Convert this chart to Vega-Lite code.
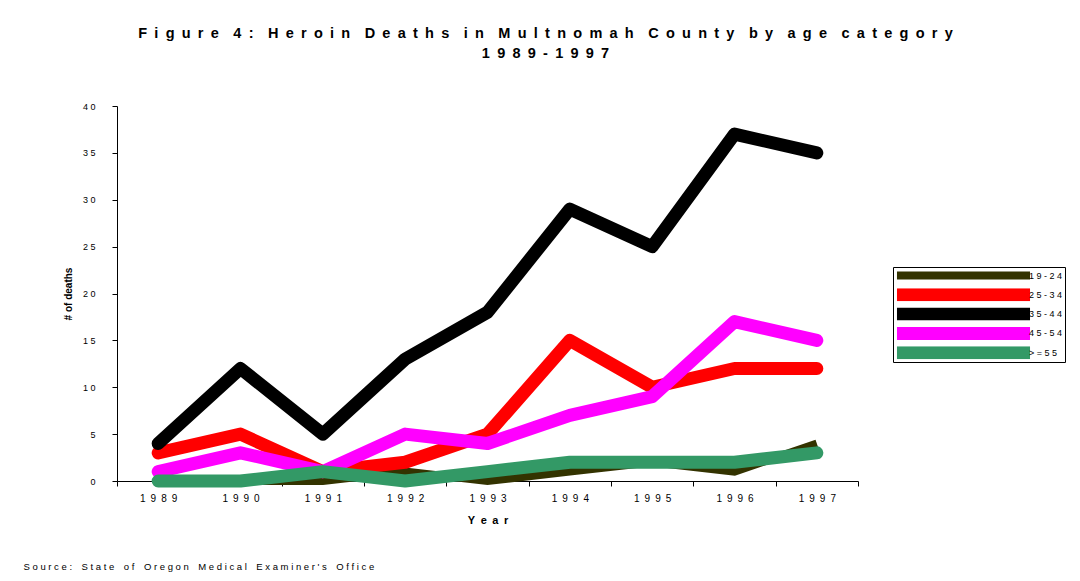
{
  "$schema": "https://vega.github.io/schema/vega-lite/v6.json",
  "width": 741,
  "height": 375,
  "autosize": "none",
  "padding": {"left": 117, "top": 106, "right": 222, "bottom": 100},
  "background": "white",
  "config": {
    "font": "Liberation Sans",
    "view": {"stroke": null},
    "axis": {"domainColor": "black", "tickColor": "black", "labelColor": "black", "titleColor": "black", "grid": false, "labelFont": "Liberation Sans", "titleFont": "Liberation Sans"}
  },
  "title": {
    "text": [
      "F\u2002i\u2002g\u2002u\u2002r\u2002e\u2002\u20024\u2002:\u2002\u2002H\u2002e\u2002r\u2002o\u2002i\u2002n\u2002\u2002D\u2002e\u2002a\u2002t\u2002h\u2002s\u2002\u2002i\u2002n\u2002\u2002M\u2002u\u2002l\u2002t\u2002n\u2002o\u2002m\u2002a\u2002h\u2002\u2002C\u2002o\u2002u\u2002n\u2002t\u2002y\u2002\u2002b\u2002y\u2002\u2002a\u2002g\u2002e\u2002\u2002c\u2002a\u2002t\u2002e\u2002g\u2002o\u2002r\u2002y",
      "1\u20029\u20028\u20029\u2002-\u20021\u20029\u20029\u20027"
    ],
    "font": "Liberation Sans",
    "fontSize": 14.5,
    "fontWeight": "bold",
    "color": "black",
    "anchor": "middle",
    "frame": "group",
    "dx": 58,
    "offset": 30,
    "lineHeight": 20,
    "baseline": "alphabetic"
  },
  "data": {
    "values": [
      {"year": "1989", "group": "19-24", "deaths": 0},
      {"year": "1990", "group": "19-24", "deaths": 0},
      {"year": "1991", "group": "19-24", "deaths": 0},
      {"year": "1992", "group": "19-24", "deaths": 1},
      {"year": "1993", "group": "19-24", "deaths": 0},
      {"year": "1994", "group": "19-24", "deaths": 1},
      {"year": "1995", "group": "19-24", "deaths": 2},
      {"year": "1996", "group": "19-24", "deaths": 1},
      {"year": "1997", "group": "19-24", "deaths": 4},
      {"year": "1989", "group": "25-34", "deaths": 3},
      {"year": "1990", "group": "25-34", "deaths": 5},
      {"year": "1991", "group": "25-34", "deaths": 1},
      {"year": "1992", "group": "25-34", "deaths": 2},
      {"year": "1993", "group": "25-34", "deaths": 5},
      {"year": "1994", "group": "25-34", "deaths": 15},
      {"year": "1995", "group": "25-34", "deaths": 10},
      {"year": "1996", "group": "25-34", "deaths": 12},
      {"year": "1997", "group": "25-34", "deaths": 12},
      {"year": "1989", "group": "35-44", "deaths": 4},
      {"year": "1990", "group": "35-44", "deaths": 12},
      {"year": "1991", "group": "35-44", "deaths": 5},
      {"year": "1992", "group": "35-44", "deaths": 13},
      {"year": "1993", "group": "35-44", "deaths": 18},
      {"year": "1994", "group": "35-44", "deaths": 29},
      {"year": "1995", "group": "35-44", "deaths": 25},
      {"year": "1996", "group": "35-44", "deaths": 37},
      {"year": "1997", "group": "35-44", "deaths": 35},
      {"year": "1989", "group": "45-54", "deaths": 1},
      {"year": "1990", "group": "45-54", "deaths": 3},
      {"year": "1991", "group": "45-54", "deaths": 1},
      {"year": "1992", "group": "45-54", "deaths": 5},
      {"year": "1993", "group": "45-54", "deaths": 4},
      {"year": "1994", "group": "45-54", "deaths": 7},
      {"year": "1995", "group": "45-54", "deaths": 9},
      {"year": "1996", "group": "45-54", "deaths": 17},
      {"year": "1997", "group": "45-54", "deaths": 15},
      {"year": "1989", "group": ">=55", "deaths": 0},
      {"year": "1990", "group": ">=55", "deaths": 0},
      {"year": "1991", "group": ">=55", "deaths": 1},
      {"year": "1992", "group": ">=55", "deaths": 0},
      {"year": "1993", "group": ">=55", "deaths": 1},
      {"year": "1994", "group": ">=55", "deaths": 2},
      {"year": "1995", "group": ">=55", "deaths": 2},
      {"year": "1996", "group": ">=55", "deaths": 2},
      {"year": "1997", "group": ">=55", "deaths": 3}
    ]
  },
  "encoding": {
    "y": {
      "field": "deaths",
      "type": "quantitative",
      "scale": {"domain": [0, 40], "nice": false},
      "axis": {
        "values": [0, 5, 10, 15, 20, 25, 30, 35, 40],
        "title": "# of deaths",
        "labelExpr": "join(split(datum.label, ''), '\u00a0')",
        "labelFontSize": 9,
        "labelPadding": 17,
        "tickSize": 5,
        "titleFontSize": 10,
        "titleFontWeight": "bold",
        "titlePadding": 9
      }
    },
    "color": {
      "field": "group",
      "type": "nominal",
      "sort": null,
      "scale": {
        "domain": ["19-24", "25-34", "35-44", "45-54", ">=55"],
        "range": ["#333300", "#ff0000", "#000000", "#ff00ff", "#339966"]
      },
      "legend": {
        "orient": "none",
        "legendX": 776,
        "legendY": 161,
        "title": null,
        "symbolType": "M-10,0H10",
        "symbolSize": 177,
        "symbolStrokeWidth": 13,
        "symbolOffset": 55,
        "clipHeight": 13,
        "labelFontSize": 9,
        "labelColor": "black",
        "labelExpr": "join(split(datum.label, ''), '\u00a0') + '\u00a0\u00a0\u00a0\u00a0'",
        "strokeColor": "black",
        "fillColor": "white",
        "padding": 2,
        "rowPadding": 6.3,
        "labelOffset": 52
      }
    },
    "strokeWidth": {
      "field": "group",
      "type": "nominal",
      "sort": null,
      "scale": {
        "type": "ordinal",
        "domain": ["19-24", "25-34", "35-44", "45-54", ">=55"],
        "range": [8, 13, 13, 13, 13]
      },
      "legend": {
        "orient": "none",
        "legendX": 776,
        "legendY": 161,
        "title": null,
        "symbolType": "M-10,0H10",
        "symbolSize": 177,
        "symbolOffset": 55,
        "clipHeight": 13,
        "labelFontSize": 9,
        "labelColor": "black",
        "labelExpr": "join(split(datum.label, ''), '\u00a0') + '\u00a0\u00a0\u00a0\u00a0'",
        "strokeColor": "black",
        "fillColor": "white",
        "padding": 2,
        "rowPadding": 6.3,
        "labelOffset": 52
      }
    }
  },
  "layer": [
    {
      "transform": [{"filter": "datum.group === '19-24'"}],
      "mark": {"type": "line", "strokeCap": "butt", "strokeJoin": "miter"},
      "encoding": {
        "x": {
          "field": "year",
          "type": "ordinal",
          "scale": {"type": "band", "paddingInner": 0, "paddingOuter": 0},
          "axis": {
            "orient": "bottom",
            "domain": false,
            "ticks": false,
            "labels": false,
            "title": "S o u r c e :\u2002\u2002S t a t e\u2002\u2002o f\u2002\u2002O r e g o n\u2002\u2002M e d i c a l\u2002\u2002E x a m i n e r ' s\u2002\u2002O f f i c e",
            "titleX": -94,
            "titleY": 88,
            "titleAlign": "left",
            "titleAnchor": "start",
            "titleBaseline": "alphabetic",
            "titleAngle": 0,
            "titleFontSize": 9.5,
            "titleFontWeight": "normal"
          }
        }
      }
    },
    {
      "transform": [{"filter": "datum.group !== '19-24'"}],
      "mark": {"type": "line", "strokeCap": "round", "strokeJoin": "round"},
      "encoding": {
        "x": {
          "field": "year",
          "type": "ordinal",
          "scale": {"type": "band", "paddingInner": 0, "paddingOuter": 0},
          "axis": {
            "orient": "bottom",
            "title": "Y\u2002e\u2002a\u2002r",
            "labelAngle": 0,
            "labelExpr": "join(split(datum.label, ''), '\u2002')",
            "labelFontSize": 10,
            "labelPadding": 7,
            "tickSize": 5,
            "tickBand": "extent",
            "titleFontSize": 11,
            "titleFontWeight": "bold",
            "titlePadding": 11
          }
        }
      }
    }
  ],
  "resolve": {"axis": {"x": "independent"}}
}
